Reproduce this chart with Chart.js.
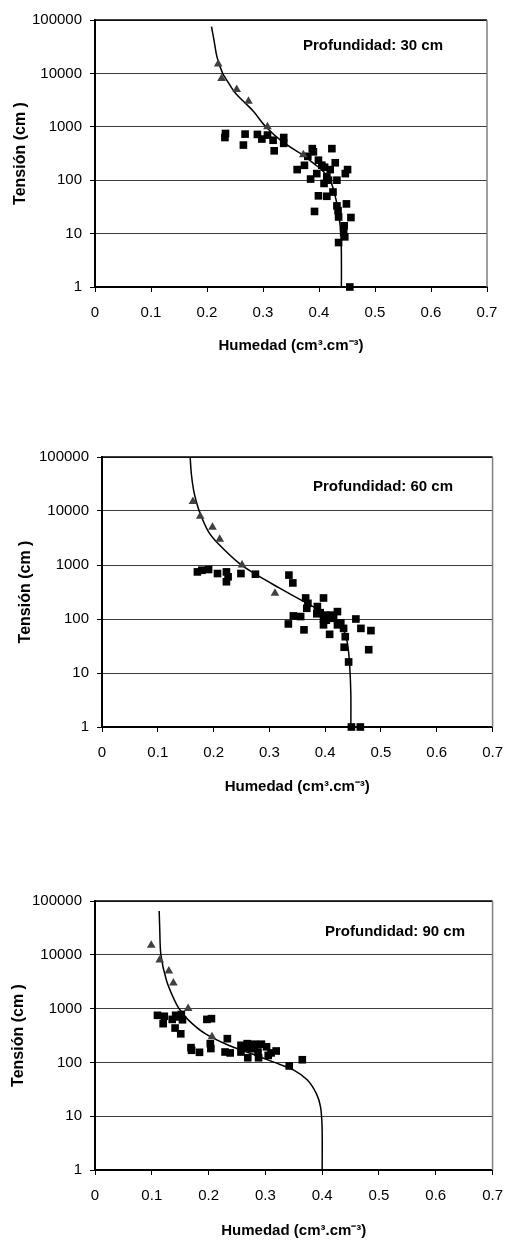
<!DOCTYPE html>
<html>
<head>
<meta charset="utf-8">
<script src="https://cdn.jsdelivr.net/npm/chart.js@4.4.1/dist/chart.umd.min.js"></script>
<style>
  html, body { margin:0; padding:0; background:#fff; }
  body { width:515px; height:1241px; position:relative; overflow:hidden; }
  canvas { position:absolute; left:0; }
</style>
</head>
<body>
<canvas id="c30" width="515" height="360" style="top:0px;width:515px;height:360px"></canvas>
<canvas id="c60" width="515" height="370" style="top:430px;width:515px;height:370px"></canvas>
<canvas id="c90" width="515" height="371" style="top:870px;width:515px;height:371px"></canvas>
<script>
/* ---- tick values ---- */
const xTicks = [0, 0.1, 0.2, 0.3, 0.4, 0.5, 0.6, 0.7];
const yTicks = [1, 10, 100, 1000, 10000, 100000];

/* ---- laboratorio (triangles): same tensions at every depth ---- */
const triY   = [15000, 8000, 5000, 3000, 1000, 300];
const tri30X = [0.220, 0.226, 0.253, 0.274, 0.308, 0.372];
const tri60X = [0.163, 0.176, 0.198, 0.211, 0.251, 0.310];
const tri90X = [0.099, 0.114, 0.130, 0.138, 0.164, 0.206];

/* ---- campo (squares) ---- */
const sq30X = [0.233,0.232,0.268,0.265,0.290,0.298,0.308,0.318,0.320,0.337,0.337,0.361,0.374,0.388,0.390,0.385,0.396,0.399,0.405,0.409,0.399,0.414,0.423,0.420,0.429,0.414,0.432,0.425,0.447,0.451,0.432,0.434,0.449,0.392,0.435,0.457,0.445,0.444,0.446,0.435,0.455,0.417,0.380,0.410];
const sq30Y = [750,630,730,455,720,590,700,560,355,630,490,158,190,390,340,105,133,237,191,87,51,50,390,158,212,115,100,60,133,158,33,27,36,26,20.5,20,14,10.7,8.7,6.8,1,100,280,175];

const sq60X = [0.171,0.179,0.191,0.207,0.223,0.226,0.223,0.249,0.275,0.335,0.342,0.365,0.369,0.367,0.397,0.386,0.391,0.400,0.411,0.422,0.415,0.397,0.343,0.356,0.334,0.362,0.408,0.422,0.433,0.436,0.455,0.464,0.482,0.434,0.478,0.442,0.447,0.463,0.385,0.402,0.397,0.428];
const sq60Y = [745,800,825,695,745,605,490,695,675,650,465,245,195,158,245,170,131,118,118,137,103,78,114,111,81,63,52,78,67,47,100,67,61,30,27,16,1,1,125,95,100,85];

const sq90X = [0.110,0.122,0.120,0.136,0.142,0.148,0.154,0.152,0.141,0.151,0.197,0.205,0.169,0.170,0.184,0.203,0.204,0.229,0.238,0.233,0.257,0.257,0.268,0.269,0.281,0.293,0.287,0.288,0.302,0.305,0.319,0.342,0.365,0.275,0.263,0.280,0.310];
const sq90Y = [750,720,525,630,750,700,620,780,435,340,630,650,188,168,154,223,181,156,150,276,208,156,223,122,218,218,156,122,195,135,163,86,112,180,190,190,150];

/* ---- fitted curves ---- */
const fit30X = [0.208,0.212,0.218,0.228,0.237,0.249,0.265,0.282,0.305,0.335,0.370,0.392,0.405,0.420,0.430,0.436,0.439,0.440,0.440];
const fit30Y = [75000,45000,20000,10000,7000,4500,3000,2000,1000,520,300,200,155,100,45,20,10,4,1];

const fit60X = [0.158,0.160,0.164,0.169,0.176,0.191,0.208,0.246,0.275,0.316,0.362,0.402,0.431,0.440,0.444,0.446,0.446];
const fit60Y = [100000,50000,25000,15000,8900,4100,2500,1070,675,385,209,122,67,35,13,4,1];

const fit90X = [0.113,0.114,0.116,0.126,0.139,0.148,0.165,0.194,0.235,0.275,0.316,0.350,0.374,0.390,0.397,0.3998,0.400];
const fit90Y = [65000,30000,10000,3300,1500,1000,605,342,208,146,100,72,47,26,15,6.3,1];

Chart.defaults.font.family = '"Liberation Sans", Arial, sans-serif';
Chart.defaults.color = '#000';

const pairs = (xs, ys) => xs.map((x, i) => ({ x: x, y: ys[i] }));

// top/right frame of the plot area + the depth label
const framePlugin = {
  id: 'frame',
  afterDraw(chart, args, opts) {
    const { ctx, chartArea: a } = chart;
    ctx.save();
    ctx.lineWidth = 1.5;
    ctx.strokeStyle = '#000';
    ctx.beginPath(); ctx.moveTo(a.left, a.top); ctx.lineTo(a.right, a.top); ctx.stroke();
    ctx.strokeStyle = '#808080';
    ctx.beginPath(); ctx.moveTo(a.right, a.top); ctx.lineTo(a.right, a.bottom); ctx.stroke();
    ctx.font = 'bold 15px "Liberation Sans", Arial, sans-serif';
    ctx.fillStyle = '#000';
    ctx.textBaseline = 'middle';
    ctx.fillText(opts.label, a.left + opts.dx, a.top + opts.dy);
    ctx.restore();
  }
};

function makeChart(id, o) {
  new Chart(document.getElementById(id), {
    type: 'scatter',
    data: {
      datasets: [
        { label: 'Laboratorio', data: pairs(o.triX, triY), pointStyle: 'triangle', pointRadius: 5,
          backgroundColor: '#404040', borderColor: '#404040', borderWidth: 0, clip: false },
        { label: 'Ajuste', data: pairs(o.fitX, o.fitY), showLine: true, pointRadius: 0,
          borderColor: '#000', borderWidth: 1.5, tension: 0.3, fill: false },
        { label: 'Campo', data: pairs(o.sqX, o.sqY), pointStyle: 'rect', pointRadius: 5.4,
          backgroundColor: '#000', borderColor: '#000', borderWidth: 0, clip: false }
      ]
    },
    options: {
      responsive: false, animation: false, devicePixelRatio: 1,
      layout: { padding: { top: o.padTop, right: o.padRight, left: 0, bottom: 0 } },
      plugins: {
        legend: { display: false },
        tooltip: { enabled: false },
        frame: { label: o.label, dx: o.labelDx, dy: o.labelDy }
      },
      scales: {
        x: {
          type: 'linear', min: 0, max: 0.7,
          afterBuildTicks: s => { s.ticks = xTicks.map(v => ({ value: v })); },
          afterFit: s => { s.height = o.xAxisH; },
          ticks: { font: { size: 15 }, padding: 12, maxRotation: 0, callback: v => String(v) },
          grid: { drawOnChartArea: false, drawTicks: true, tickLength: 5, color: '#000' },
          border: { display: true, color: '#000', width: 2 },
          title: { display: true, text: 'Humedad (cm³.cm⁻³)', font: { size: 15, weight: 'bold' },
                   padding: { top: 0, bottom: o.xTitlePad } }
        },
        y: {
          type: 'logarithmic', min: 1, max: 100000,
          afterBuildTicks: s => { s.ticks = yTicks.map(v => ({ value: v, major: true })); },
          afterFit: s => { s.width = o.yAxisW; },
          ticks: { font: { size: 15 }, padding: 8, callback: v => String(v) },
          grid: { color: '#3c3c3c', lineWidth: 1, tickLength: 5, tickColor: '#000' },
          border: { display: true, color: '#000', width: 2 },
          title: { display: true, text: 'Tensión (cm )', font: { size: 16, weight: 'bold' },
                   padding: { top: o.yTitlePad, bottom: 0 } }
        }
      }
    },
    plugins: [framePlugin]
  });
}

makeChart('c30', { triX: tri30X, sqX: sq30X, sqY: sq30Y, fitX: fit30X, fitY: fit30Y,
  label: 'Profundidad: 30 cm', labelDx: 208, labelDy: 26,
  padTop: 20, padRight: 28, yAxisW: 95, xAxisH: 73, xTitlePad: 5, yTitlePad: 11 });

makeChart('c60', { triX: tri60X, sqX: sq60X, sqY: sq60Y, fitX: fit60X, fitY: fit60Y,
  label: 'Profundidad: 60 cm', labelDx: 211, labelDy: 30,
  padTop: 27, padRight: 10, yAxisW: 102, xAxisH: 73, xTitlePad: 4, yTitlePad: 16 });

makeChart('c90', { triX: tri90X, sqX: sq90X, sqY: sq90Y, fitX: fit90X, fitY: fit90Y,
  label: 'Profundidad: 90 cm', labelDx: 230, labelDy: 31,
  padTop: 31, padRight: 17, yAxisW: 95, xAxisH: 71, xTitlePad: 1, yTitlePad: 9 });
</script>
</body>
</html>
